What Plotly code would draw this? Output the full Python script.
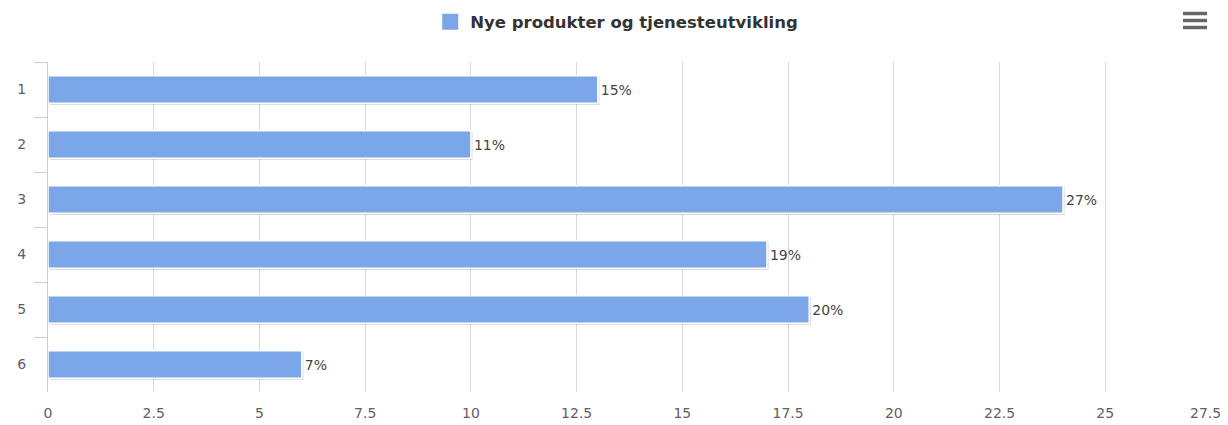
import plotly.graph_objects as go

categories = ["1", "2", "3", "4", "5", "6"]
values = [13, 10, 24, 17, 18, 6]
pct_labels = ["15%", "11%", "27%", "19%", "20%", "7%"]
series_name = "Nye produkter og tjenesteutvikling"
x_ticks = [0, 2.5, 5, 7.5, 10, 12.5, 15, 17.5, 20, 22.5, 25, 27.5]
x_tick_labels = ["0", "2.5", "5", "7.5", "10", "12.5", "15", "17.5", "20", "22.5", "25", "27.5"]

BAR = "#7ba7e8"
FONT = "DejaVu Sans, Open Sans, sans-serif"
TICKFONT = dict(family=FONT, size=14, color="#606060")

fig = go.Figure()
# shadow
fig.add_trace(go.Bar(
    y=categories, x=values, orientation="h", base=0.04,
    width=0.52, offset=-0.24,
    marker=dict(color="rgba(0,0,0,0.13)", line=dict(width=0)),
    showlegend=False, hoverinfo="skip",
))
fig.add_trace(go.Bar(
    y=categories, x=values, orientation="h", name=series_name,
    width=0.5, offset=-0.25,
    marker=dict(color=BAR, line=dict(color="white", width=1.5)),
    text=pct_labels, textposition="outside",
    textfont=dict(family=FONT, size=14, color="#444444"),
    cliponaxis=False, showlegend=False,
))
# legend entry (larger square symbol)
fig.add_trace(go.Scatter(
    x=[None], y=[None], mode="markers", name=series_name,
    marker=dict(symbol="square", size=16, color=BAR, line=dict(width=0)),
    showlegend=True, hoverinfo="skip",
))

# the page body has an 8px margin, so the figure is sized/offset to compensate
fig.update_layout(
    width=1220, height=417,
    margin=dict(l=40, r=17, t=54, b=33, autoexpand=False),
    paper_bgcolor="white", plot_bgcolor="white",
    barmode="overlay",
    showlegend=True,
    legend=dict(orientation="h", x=0.489, xanchor="center", y=1.121, yanchor="middle",
                font=dict(family=FONT, size=16.5, color="#333333", weight="bold"),
                itemclick=False, itemsizing="trace"),
    font=dict(family=FONT),
)
# last x tick label is drawn as an annotation, nudged left to stay inside the page
shown_ticktext = x_tick_labels[:-1] + [""]
fig.update_xaxes(
    range=[0, 27.5], tickvals=x_ticks, ticktext=shown_ticktext,
    showgrid=True, gridcolor="#d8d8d8", gridwidth=1,
    zeroline=False, showline=False, automargin=False,
    tickfont=TICKFONT,
    ticks="", ticklabelstandoff=11,
)
fig.add_annotation(
    x=x_ticks[-1], xref="x", y=0, yref="paper", yanchor="top", yshift=-11, xshift=-6,
    text=x_tick_labels[-1], showarrow=False, font=TICKFONT,
)
fig.update_yaxes(
    autorange="reversed", type="category",
    showgrid=False, zeroline=False, automargin=False,
    showline=True, linecolor="#c0d0e0", linewidth=1,
    ticks="outside", tickson="boundaries", ticklen=13, tickcolor="#c0d0e0", tickwidth=1,
    tickfont=TICKFONT,
    ticklabelstandoff=18,
)

# menu (hamburger) icon
for y0 in [12, 19, 26]:
    fig.add_shape(type="line", xref="paper", yref="paper",
                  x0=(1183 - 48) / 1163, x1=(1207 - 48) / 1163,
                  y0=(392 - y0 - 1.5) / 330, y1=(392 - y0 - 1.5) / 330,
                  line=dict(color="#666666", width=3.5))

fig.write_html("out.html")
